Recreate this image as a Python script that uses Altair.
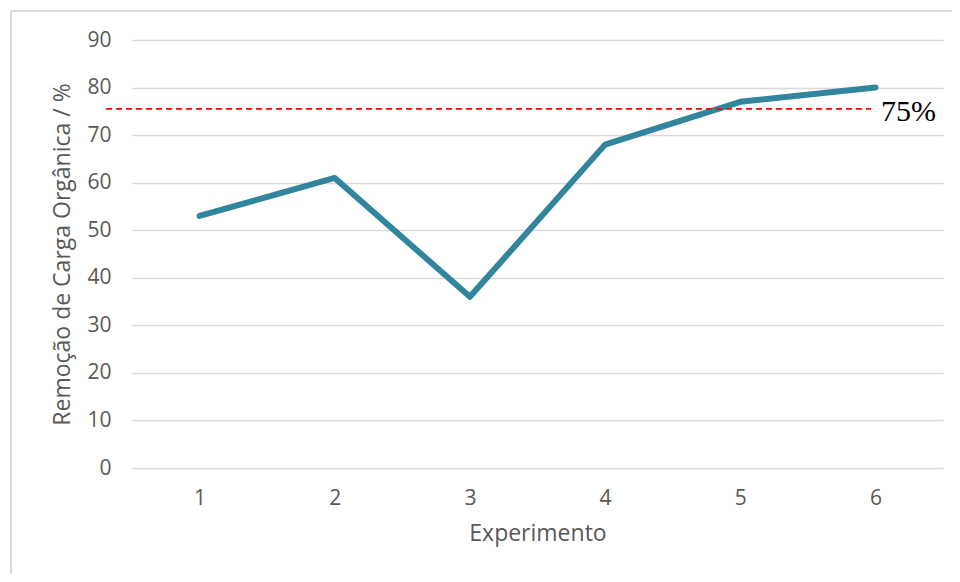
import altair as alt
import pandas as pd

experimentos = ["1", "2", "3", "4", "5", "6"]
remocao = [53, 61, 36, 68, 77, 80]
limite = 75.5
limite_label = "75%"

df = pd.DataFrame({"Experimento": experimentos, "Remocao": remocao})
ref = pd.DataFrame({"y": [limite], "label": [limite_label]})

W, H = 811, 428
FONT = "Open Sans"

x_enc = alt.X("Experimento:O", sort=experimentos,
              scale=alt.Scale(type="point", padding=0.5),
              axis=alt.Axis(title="Experimento", labelAngle=0, ticks=False, domain=False,
                            labelFontSize=21, labelColor="#595959", labelPadding=19,
                            titleFontSize=23, titleColor="#595959", titleFontWeight="normal",
                            titlePadding=14, labelFont=FONT, titleFont=FONT))
y_scale = alt.Scale(domain=[0, 90])
y_enc = alt.Y("Remocao:Q", scale=y_scale,
              axis=alt.Axis(title="Remoção de Carga Orgânica / %", values=list(range(0, 91, 10)),
                            ticks=False, domain=False, grid=True, gridColor="#d9d9d9",
                            gridWidth=1.5, labelFontSize=21, labelColor="#595959",
                            labelPadding=21, titleFontSize=23, titleColor="#595959",
                            titleFontWeight="normal", titlePadding=12,
                            labelFont=FONT, titleFont=FONT))

frame = alt.Chart(ref).mark_rect(filled=False, stroke="#d9d9d9", strokeWidth=2).encode(
    x=alt.value(11 - 132), x2=alt.value(1000), y=alt.value(11 - 40), y2=alt.value(700))

line = alt.Chart(df).mark_line(color="#31859C", strokeWidth=6, strokeCap="round",
                               strokeJoin="round").encode(x=x_enc, y=y_enc)

dash = alt.Chart(ref).mark_rule(color="#FF0000", strokeDash=[6, 4], strokeWidth=1.8).encode(
    y=alt.Y("y:Q", scale=y_scale), x=alt.value(106 - 132), x2=alt.value(871 - 132))

label = alt.Chart(ref).mark_text(align="left", baseline="middle", font="Liberation Serif",
                                 fontSize=30, color="black", dy=3).encode(
    y=alt.Y("y:Q", scale=y_scale), x=alt.value(881 - 132), text="label:N")

chart = alt.layer(frame, line, dash, label).properties(
    width=W, height=H,
    autosize=alt.AutoSizeParams(type="none"),
    padding={"left": 124, "top": 32, "right": 9, "bottom": 106},
).configure_view(stroke=None)

chart.save("out.html", embed_options={"renderer": "svg", "actions": False})
